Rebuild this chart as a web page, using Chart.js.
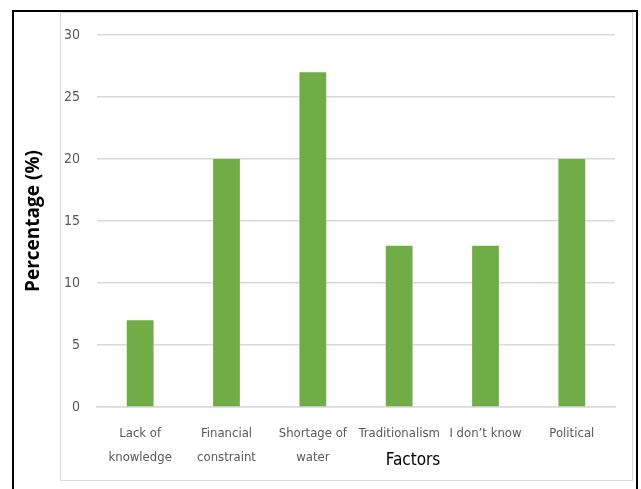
<!DOCTYPE html>
<html>
<head>
<meta charset="utf-8">
<script src="https://cdn.jsdelivr.net/npm/chart.js@4/dist/chart.umd.min.js"></script>
<style>
  html, body { margin: 0; padding: 0; background: #ffffff; }
  #wrap { position: relative; width: 641px; height: 489px; overflow: hidden; }
  #outer { position: absolute; left: 12px; top: 10px; width: 626px; height: 490px; border: 2px solid #000; box-sizing: border-box; }
  #inner { position: absolute; left: 60px; top: 12px; width: 573px; height: 469px; border: 1px solid #d9d9d9; box-sizing: border-box; }
  canvas { position: absolute; left: 0; top: 0; }
</style>
</head>
<body>
<div id="wrap">
  <div id="outer"></div>
  <div id="inner"></div>
  <canvas id="c" width="641" height="489"></canvas>
</div>
<script>
const categories = [["Lack of", "knowledge"], ["Financial", "constraint"], ["Shortage of", "water"], "Traditionalism", "I don\u2019t know", "Political"];
const percentages = [7, 20, 27, 13, 13, 20];
const yTicks = [0, 5, 10, 15, 20, 25, 30];
const yTitle = "Percentage (%)";
const xTitle = "Factors";

const narrow = "'DejaVu Sans Condensed', 'Liberation Sans Narrow', sans-serif";

const xTitlePlugin = {
  id: 'xTitlePlugin',
  afterDraw(chart) {
    const ctx = chart.ctx;
    const a = chart.chartArea;
    ctx.save();
    ctx.font = "17px " + narrow;
    ctx.fillStyle = "#000000";
    ctx.textAlign = "center";
    ctx.textBaseline = "middle";
    ctx.fillText(xTitle, a.left + (a.right - a.left) * 0.61, 461);
    ctx.restore();
  }
};

new Chart(document.getElementById('c'), {
  type: 'bar',
  data: {
    labels: categories,
    datasets: [{
      data: percentages,
      backgroundColor: '#70ad47',
      borderWidth: 0,
      barPercentage: 0.31,
      categoryPercentage: 1.0
    }]
  },
  options: {
    responsive: false,
    devicePixelRatio: 1,
    animation: false,
    layout: { padding: { left: 0, top: 35, right: 26, bottom: 0 } },
    plugins: { legend: { display: false }, tooltip: { enabled: false } },
    scales: {
      x: {
        grid: { display: false, drawTicks: false },
        border: { display: true, color: '#d9d9d9', width: 1.5 },
        ticks: { color: '#595959', font: { family: narrow, size: 13, lineHeight: 1.85 }, padding: 15, maxRotation: 0, autoSkip: false },
        afterFit(s) { s.height = 82; }
      },
      y: {
        min: 0, max: 30,
        afterBuildTicks(s) { s.ticks = yTicks.map(v => ({ value: v })); },
        grid: { color: '#d9d9d9', lineWidth: 1.5, drawTicks: false },
        border: { display: false },
        ticks: { color: '#595959', font: { family: narrow, size: 14 }, padding: 17 },
        title: { display: true, text: yTitle, color: '#000', font: { family: "'Open Sans', sans-serif", size: 19, weight: 'bold' }, padding: { top: 22, bottom: 0 } },
        afterFit(s) { s.width = 97; }
      }
    }
  },
  plugins: [xTitlePlugin]
});
</script>
</body>
</html>
